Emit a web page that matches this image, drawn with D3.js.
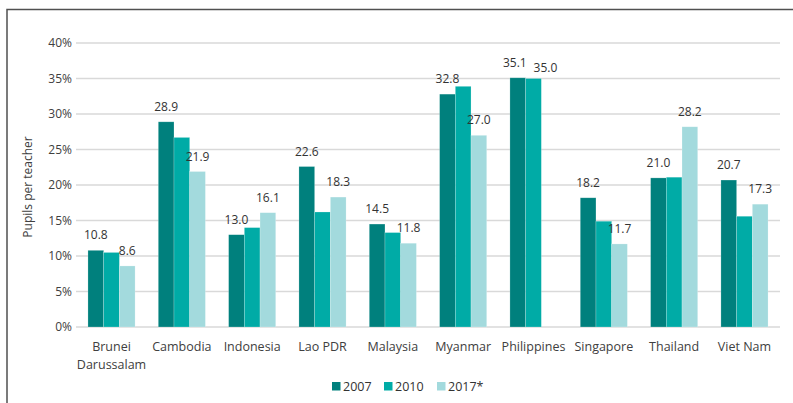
<!DOCTYPE html>
<html>
<head>
<meta charset="utf-8">
<script src="https://cdn.jsdelivr.net/npm/d3@7"></script>
<style>
  body { margin: 0; background: #fff; }
  svg { display: block; font-family: "Open Sans", sans-serif; }
</style>
</head>
<body>
<div class="chart"></div>
<script>
const width = 793
const height = 403

// data
const countries = [["Brunei", "Darussalam"], ["Cambodia"], ["Indonesia"], ["Lao PDR"], ["Malaysia"],
                   ["Myanmar"], ["Philippines"], ["Singapore"], ["Thailand"], ["Viet Nam"]]
const years = ["2007", "2010", "2017*"]
const v2007 = [10.8, 28.9, 13.0, 22.6, 14.5, 32.8, 35.1, 18.2, 21.0, 20.7]
const v2010 = [10.5, 26.7, 14.0, 16.2, 13.3, 33.9, 35.0, 14.9, 21.1, 15.6]
const v2017 = [8.6, 21.9, 16.1, 18.3, 11.8, 27.0, null, 11.7, 28.2, 17.3]
// which bars carry a value label
const shown2007 = [true, true, true, true, true, true, true, true, true, true]
const shown2010 = [false, false, false, false, false, false, true, false, false, false]
const shown2017 = [true, true, true, true, true, true, false, true, true, true]
const yTicks = [0, 5, 10, 15, 20, 25, 30, 35, 40]

const colors = ["#00807d", "#00aba6", "#a3dadd"]

const series = [v2007, v2010, v2017]
const shown = [shown2007, shown2010, shown2017]

const margin = {left: 76, right: 13, top: 43, bottom: 76}

const x = d3.scaleBand()
    .domain(d3.range(countries.length))
    .range([margin.left, width - margin.right])
    .paddingInner(0.33)
    .paddingOuter(0.17)

const xs = d3.scaleBand()
    .domain(d3.range(years.length))
    .range([0, x.bandwidth()])

const y = d3.scaleLinear()
    .domain([0, 40])
    .range([height - margin.bottom - 0, margin.top])

const svg = d3.select(".chart").append("svg")
    .attr("width", width)
    .attr("height", height)

// frame (only top and left visible)
svg.append("path")
    .attr("d", `M7,${height} V9.5 H${width}`)
    .attr("fill", "none")
    .attr("stroke", "#505050")
    .attr("stroke-width", 1.5)

// grid
svg.append("g")
    .selectAll("line")
    .data(yTicks)
    .join("line")
    .attr("x1", margin.left)
    .attr("x2", width - margin.right)
    .attr("y1", d => y(d))
    .attr("y2", d => y(d))
    .attr("stroke", "#d9d9d9")
    .attr("stroke-width", 1.3)

svg.append("g")
    .selectAll("text")
    .data(yTicks)
    .join("text")
    .attr("x", 72)
    .attr("y", d => y(d))
    .attr("dy", "0.35em")
    .attr("text-anchor", "end")
    .attr("font-size", 12)
    .attr("fill", "#404040")
    .text(d => d + "%")

svg.append("text")
    .attr("transform", `translate(32,${(y(0) + y(40)) / 2 + 2}) rotate(-90)`)
    .attr("text-anchor", "middle")
    .attr("font-size", 12)
    .attr("fill", "#404040")
    .text("Pupils per teacher")

// bars
const groups = svg.append("g")
    .selectAll("g")
    .data(series)
    .join("g")
    .attr("fill", (d, i) => colors[i])

groups.selectAll("rect")
    .data((d, i) => d.map((v, j) => ({v, j, s: i})).filter(e => e.v != null))
    .join("rect")
    .attr("x", d => x(d.j) + xs(d.s))
    .attr("y", d => y(d.v))
    .attr("width", xs.bandwidth())
    .attr("height", d => y(0) - y(d.v))
    .attr("stroke", "#fff")
    .attr("stroke-opacity", 0.35)
    .attr("stroke-width", 0.6)

// value labels; when two neighbouring labels would collide, push them apart
const labels = series.flatMap((d, i) => d.map((v, j) => ({v, j, s: i})))
    .filter(e => e.v != null && shown[e.s][e.j])
labels.forEach(e => {
    const pair = shown2007[e.j] && shown2010[e.j]
    e.dx = pair ? (e.s === 0 ? -3 : e.s === 1 ? 12 : 0) : 0
    e.dy = pair && e.s === 1 ? 4 : 0
})

svg.append("g")
    .selectAll("text")
    .data(labels)
    .join("text")
    .attr("x", d => x(d.j) + xs(d.s) + xs.bandwidth() / 2 + d.dx)
    .attr("y", d => y(d.v) - 11 + d.dy)
    .attr("text-anchor", "middle")
    .attr("font-size", 12)
    .attr("fill", "#333")
    .text(d => d.v.toFixed(1))

// category labels
svg.append("g")
    .selectAll("text")
    .data(countries)
    .join("text")
    .attr("x", (d, i) => x(i) + x.bandwidth() / 2)
    .attr("y", 351)
    .attr("text-anchor", "middle")
    .attr("font-size", 12.5)
    .attr("fill", "#404040")
    .selectAll("tspan")
    .data(d => d)
    .join("tspan")
    .attr("x", function () { return this.parentNode.getAttribute("x") })
    .attr("dy", (d, i) => i ? 18 : 0)
    .text(d => d)

// legend
const legendX = [332, 384, 437]
const legend = svg.append("g")
    .selectAll("g")
    .data(years)
    .join("g")
    .attr("transform", (d, i) => `translate(${legendX[i]},382)`)

legend.append("rect")
    .attr("width", 8.5)
    .attr("height", 8.5)
    .attr("fill", (d, i) => colors[i])

legend.append("text")
    .attr("x", 11)
    .attr("y", 4.5)
    .attr("dy", "0.35em")
    .attr("font-size", 12.5)
    .attr("fill", "#333")
    .text(d => d)
</script>
</body>
</html>
